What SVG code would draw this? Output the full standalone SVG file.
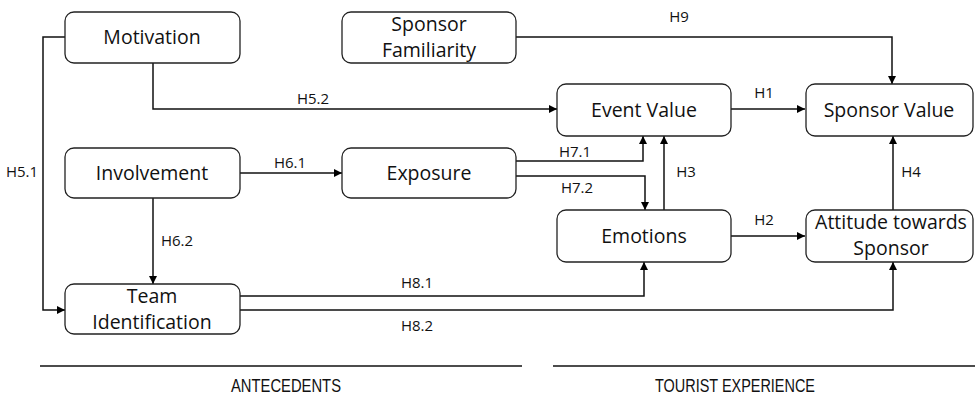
<svg xmlns="http://www.w3.org/2000/svg" width="975" height="395" viewBox="0 0 975 395">
<defs>
<marker id="ah" viewBox="0 0 10 10" refX="10" refY="5" markerWidth="8" markerHeight="8" markerUnits="userSpaceOnUse" orient="auto">
<path d="M0,0 L10,5 L0,10 z" fill="#000"/>
</marker>
<style>
.box{fill:#fff;stroke:#222;stroke-width:1.3}
.t{font-family:"Open Sans","Noto Sans",sans-serif;font-size:19.5px;fill:#111;text-anchor:middle}
.l{font-family:"Open Sans","Noto Sans",sans-serif;font-size:15px;fill:#111;text-anchor:middle}
.c{fill:none;stroke:#111;stroke-width:1.5}
.a{marker-end:url(#ah)}
.s{font-family:"Liberation Sans",sans-serif;font-size:18px;fill:#111;text-anchor:middle}
</style>
</defs>
<rect width="975" height="395" fill="#fff"/>
<g id="connectors">
<path class="c a" d="M65,37 H43 V310 H65"/>
<path class="c a" d="M153,63 V109 H557"/>
<path class="c a" d="M516,37 H892 V84"/>
<path class="c a" d="M731,109 H805"/>
<path class="c a" d="M240,173 H342"/>
<path class="c a" d="M153,198 V284"/>
<path class="c a" d="M516,161 H643 V136"/>
<path class="c a" d="M516,176 H645 V210"/>
<path class="c a" d="M664,210 V136"/>
<path class="c a" d="M731,236 H805"/>
<path class="c a" d="M893,210 V136"/>
<path class="c a" d="M240,296 H644 V262"/>
<path class="c a" d="M240,310 H893 V262"/>
<text class="l" x="22" y="177">H5.1</text>
<text class="l" x="313" y="104">H5.2</text>
<text class="l" x="679" y="22">H9</text>
<text class="l" x="764" y="98">H1</text>
<text class="l" x="290" y="168">H6.1</text>
<text class="l" x="177" y="246">H6.2</text>
<text class="l" x="575" y="157">H7.1</text>
<text class="l" x="577" y="193">H7.2</text>
<text class="l" x="686" y="177">H3</text>
<text class="l" x="764" y="225">H2</text>
<text class="l" x="911" y="177">H4</text>
<text class="l" x="417" y="288">H8.1</text>
<text class="l" x="417" y="331">H8.2</text>
</g>
<g id="motivation"><rect class="box" x="65" y="12" width="175" height="51" rx="9"/><text class="t" x="152" y="44">Motivation</text></g>
<g id="sponsor-familiarity"><rect class="box" x="342" y="12" width="174" height="51" rx="9"/><text class="t" x="429" y="31">Sponsor</text><text class="t" x="429" y="57">Familiarity</text></g>
<g id="event-value"><rect class="box" x="557" y="84" width="174" height="52" rx="9"/><text class="t" x="644" y="117">Event Value</text></g>
<g id="sponsor-value"><rect class="box" x="806" y="84" width="167" height="52" rx="9"/><text class="t" x="889" y="117">Sponsor Value</text></g>
<g id="involvement"><rect class="box" x="65" y="148" width="175" height="50" rx="9"/><text class="t" x="152" y="180">Involvement</text></g>
<g id="exposure"><rect class="box" x="342" y="148" width="174" height="50" rx="9"/><text class="t" x="429" y="180">Exposure</text></g>
<g id="emotions"><rect class="box" x="557" y="210" width="174" height="52" rx="9"/><text class="t" x="644" y="243">Emotions</text></g>
<g id="attitude"><rect class="box" x="806" y="210" width="167" height="52" rx="9"/><text class="t" x="891" y="229">Attitude towards</text><text class="t" x="891" y="255">Sponsor</text></g>
<g id="team-identification"><rect class="box" x="65" y="284" width="175" height="50" rx="9"/><text class="t" x="152" y="303">Team</text><text class="t" x="152" y="329">Identification</text></g>
<g id="sections">
<line x1="40" y1="366" x2="522" y2="366" stroke="#111" stroke-width="1.5"/>
<line x1="553" y1="366" x2="975" y2="366" stroke="#111" stroke-width="1.5"/>
<text class="s" x="286" y="392" textLength="110" lengthAdjust="spacingAndGlyphs">ANTECEDENTS</text>
<text class="s" x="735" y="392" textLength="160" lengthAdjust="spacingAndGlyphs">TOURIST EXPERIENCE</text>
</g>
</svg>
